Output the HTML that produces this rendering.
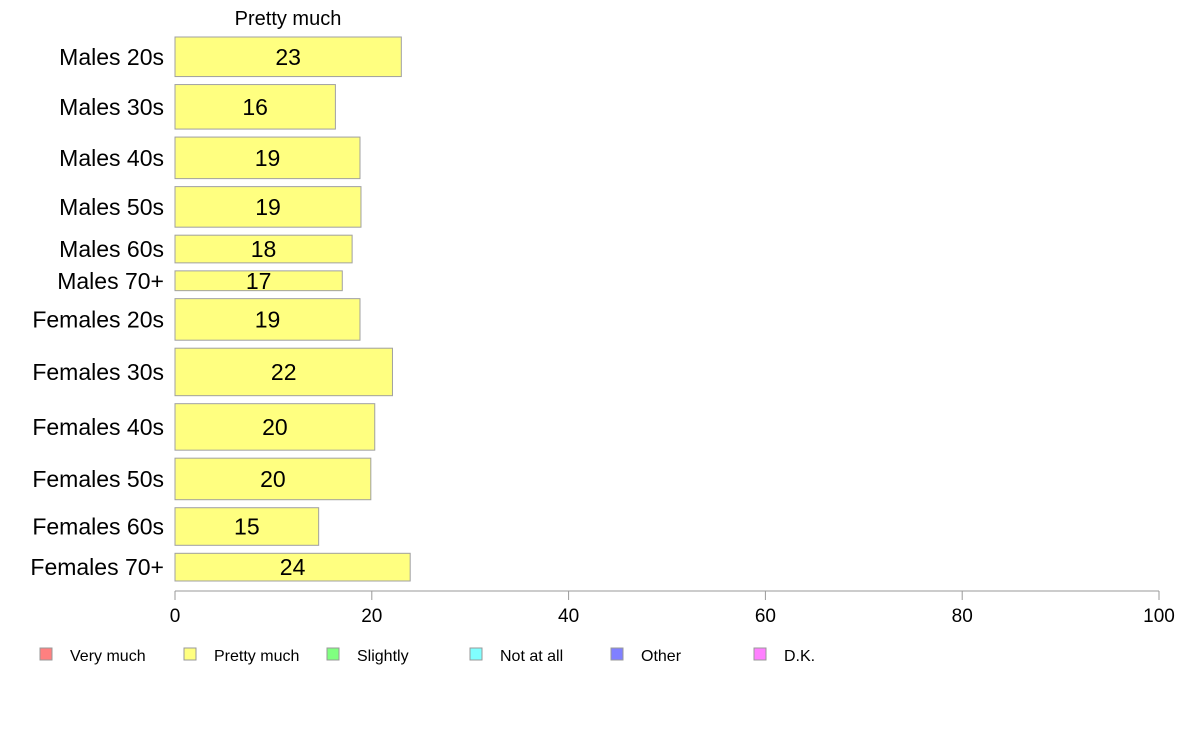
<!DOCTYPE html>
<html><head><meta charset="utf-8"><style>
body{margin:0;background:#fff;}
svg{display:block;font-family:"Liberation Sans",Arial,sans-serif;}
</style></head><body>
<svg id="chart" width="1188" height="736">
<text x="288" y="25" font-size="20" text-anchor="middle">Pretty much</text>
<g id="bars"></g>
<g id="axis"></g>
<g id="legend"></g>
</svg>
<script>
const categories=["Males 20s","Males 30s","Males 40s","Males 50s","Males 60s","Males 70+","Females 20s","Females 30s","Females 40s","Females 50s","Females 60s","Females 70+"];
const values=[23.0,16.3,18.8,18.9,18.0,17.0,18.8,22.1,20.3,19.9,14.6,23.9];
const valueLabels=["23","16","19","19","18","17","19","22","20","20","15","24"];
const weights=[40,45,42,41,28,20,42,48,47,42,38,28];
const ticks=[0,20,40,60,80,100];
const legendLabels=["Very much","Pretty much","Slightly","Not at all","Other","D.K."];
const legendColors=["#ff8080","#ffff80","#80ff80","#80ffff","#8080ff","#ff80ff"];
const NS="http://www.w3.org/2000/svg";
const x0=175,x1=1159,yTop=37,yBottom=581,gap=8;
const xs=v=>x0+(x1-x0)*v/100;
const totalW=weights.reduce((a,b)=>a+b,0);
const unit=(yBottom-yTop-gap*(weights.length-1))/totalW;
const bars=document.getElementById('bars');
let y=yTop;
categories.forEach((c,i)=>{
  const h=weights[i]*unit;
  const r=document.createElementNS(NS,'rect');
  r.setAttribute('x',x0);r.setAttribute('y',y);r.setAttribute('width',xs(values[i])-x0);r.setAttribute('height',h);
  r.setAttribute('fill','#ffff80');r.setAttribute('stroke','#a0a0a0');r.setAttribute('stroke-width','1');
  
  
  bars.appendChild(r);
  const t=document.createElementNS(NS,'text');
  t.setAttribute('x',(x0+xs(values[i]))/2);t.setAttribute('y',y+h/2+8);t.setAttribute('font-size','23');t.setAttribute('text-anchor','middle');
  t.textContent=valueLabels[i];
  
  
  bars.appendChild(t);
  const l=document.createElementNS(NS,'text');
  l.setAttribute('x',164);l.setAttribute('y',y+h/2+8);l.setAttribute('font-size','23');l.setAttribute('text-anchor','end');
  l.textContent=c;
  
  
  bars.appendChild(l);
  y+=h+gap;
});
const ax=document.getElementById('axis');
const line=document.createElementNS(NS,'line');
line.setAttribute('x1',x0);line.setAttribute('x2',x1);line.setAttribute('y1',591);line.setAttribute('y2',591);line.setAttribute('stroke','#999');


ax.appendChild(line);
ticks.forEach(v=>{
  const tl=document.createElementNS(NS,'line');
  tl.setAttribute('x1',xs(v));tl.setAttribute('x2',xs(v));tl.setAttribute('y1',591);tl.setAttribute('y2',600);tl.setAttribute('stroke','#999');
  
  
  ax.appendChild(tl);
  const tt=document.createElementNS(NS,'text');
  tt.setAttribute('x',xs(v));tt.setAttribute('y',622);tt.setAttribute('font-size','19');tt.setAttribute('text-anchor','middle');
  tt.textContent=v;
  
  
  ax.appendChild(tt);
});
const lg=document.getElementById('legend');
const boxX=[40,184,327,470,611,754];
legendLabels.forEach((lab,i)=>{
  const r=document.createElementNS(NS,'rect');
  r.setAttribute('x',boxX[i]);r.setAttribute('y',648);r.setAttribute('width',12);r.setAttribute('height',12);
  r.setAttribute('fill',legendColors[i]);r.setAttribute('stroke','#999');
  
  
  lg.appendChild(r);
  const t=document.createElementNS(NS,'text');
  t.setAttribute('x',boxX[i]+30);t.setAttribute('y',661);t.setAttribute('font-size','16');
  t.textContent=lab;
  
  
  lg.appendChild(t);
});
</script>
</body></html>
